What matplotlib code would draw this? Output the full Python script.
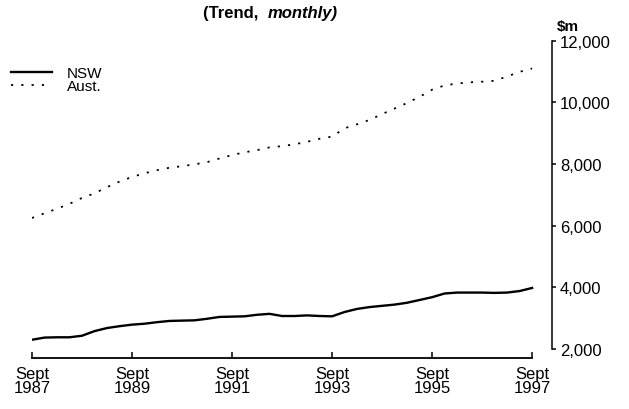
# NSW vs Australia, trend series, Sept 1987 - Sept 1997
import numpy as np
import matplotlib.pyplot as plt

plt.rcParams['font.family'] = ['Liberation Sans', 'DejaVu Sans']

# ---------- data (quarterly readings of the monthly trend, $m) ----------
months = np.arange(0, 121, 3)   # months since Sept 1987

nsw = [2300, 2370, 2380, 2380, 2430, 2580, 2680, 2740, 2790, 2820,
       2870, 2910, 2920, 2930, 2980, 3040, 3050, 3060, 3110, 3140,
       3070, 3070, 3090, 3070, 3060, 3200, 3300, 3360, 3400, 3440,
       3500, 3590, 3680, 3800, 3830, 3830, 3830, 3820, 3830, 3880,
       3980]

aust = [6250, 6400, 6550, 6710, 6900, 7050, 7250, 7430, 7580, 7700,
        7800, 7880, 7930, 7990, 8060, 8180, 8290, 8380, 8450, 8540,
        8580, 8640, 8720, 8820, 8890, 9160, 9290, 9430, 9620, 9800,
        9980, 10180, 10410, 10550, 10610, 10650, 10670, 10700, 10840, 10990,
        11100]

xtick_pos = [0, 24, 48, 72, 96, 120]
xtick_labels = ["Sept\n1987", "Sept\n1989", "Sept\n1991",
                "Sept\n1993", "Sept\n1995", "Sept\n1997"]
ytick_pos = [2000, 4000, 6000, 8000, 10000, 12000]

# ---------- figure ----------
fig = plt.figure(figsize=(6.29, 4.10), dpi=100)
ax = fig.add_axes([0.0509, 0.1244, 0.8262, 0.7739])

ax.plot(months, nsw, color='black', lw=1.7, label="NSW")
ax.plot(months, aust, color='black', lw=1.3, ls=(0, (1.2, 4.5)), label="Aust.")

ax.set_xlim(0, 124.7)
ax.set_ylim(1708, 12000)

# axes: bottom + right only
ax.spines['top'].set_visible(False)
ax.spines['left'].set_visible(False)
ax.spines['bottom'].set_bounds(0, 120)
ax.spines['right'].set_bounds(2000, 12000)
ax.spines['bottom'].set_linewidth(1.3)
ax.spines['right'].set_linewidth(1.1)

ax.set_xticks(xtick_pos)
ax.set_xticklabels(xtick_labels, fontsize=12, linespacing=0.9)
ax.tick_params(axis='x', direction='in', length=4.5, width=1.1, pad=6)

ax.yaxis.tick_right()
ax.set_yticks(ytick_pos)
ax.set_yticklabels([f"{v:,}" for v in ytick_pos], fontsize=12)
ax.tick_params(axis='y', direction='out', length=3, width=1.1, pad=3)

# title and units
fig.text(0.425, 0.966, "(Trend,  ", fontsize=12, fontweight='bold', ha='right', va='center')
fig.text(0.425, 0.966, "monthly)", fontsize=12, fontweight='bold', style='italic',
         ha='left', va='center')
fig.text(0.885, 0.935, "$m", fontsize=11, fontweight='bold', ha='left', va='center')

ax.legend(loc='upper left', bbox_to_anchor=(0.0, 0.862), bbox_transform=fig.transFigure,
          frameon=False, fontsize=11, handlelength=2.7, handletextpad=1.0,
          labelspacing=-0.08, borderaxespad=0.3)

fig.savefig("out.png", dpi=100)
